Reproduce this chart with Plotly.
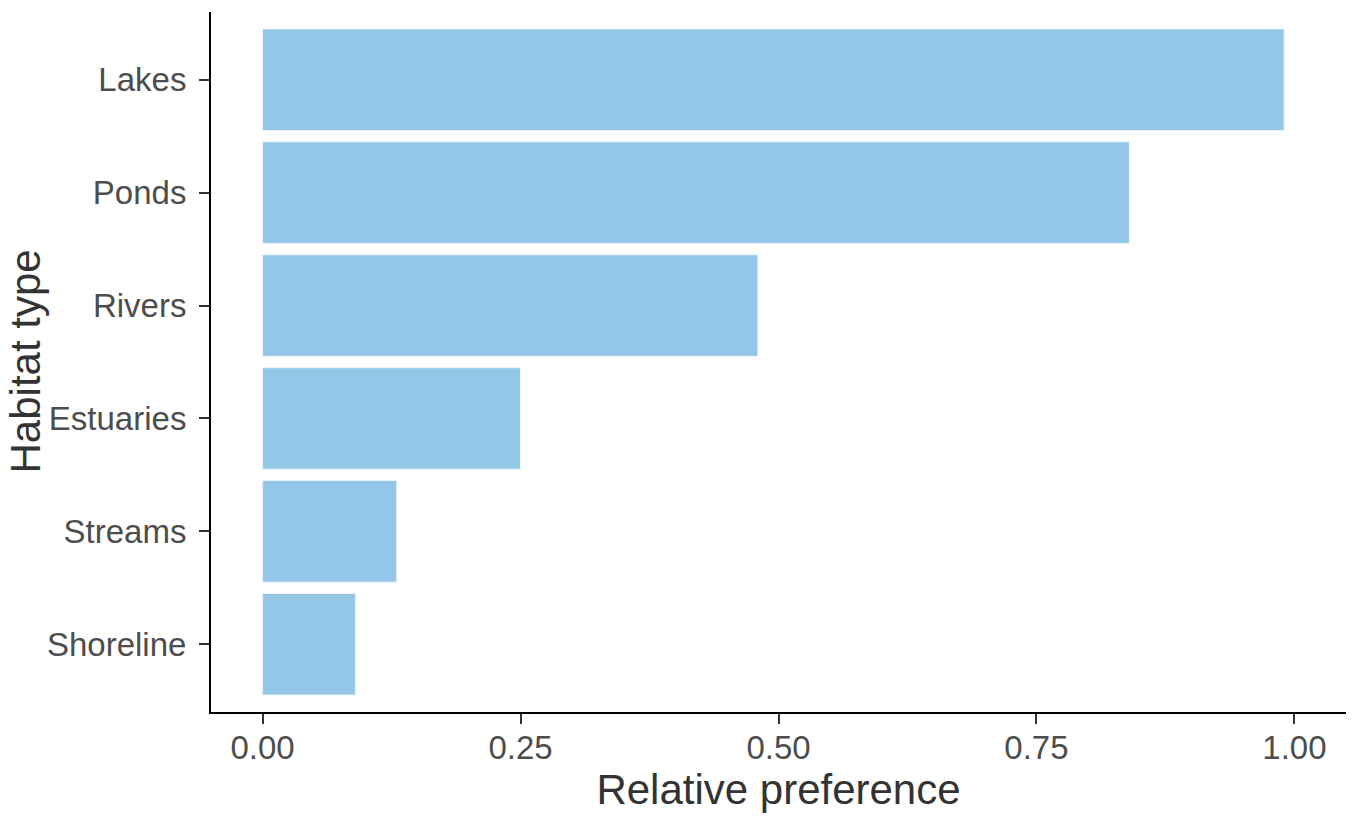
import plotly.graph_objects as go

# habitat preference data
habitats = ["Shoreline", "Streams", "Estuaries", "Rivers", "Ponds", "Lakes"]
preference = [0.09, 0.13, 0.25, 0.48, 0.84, 0.99]

x_ticks = [0, 0.25, 0.5, 0.75, 1.0]
x_tick_labels = ["0.00", "0.25", "0.50", "0.75", "1.00"]

bar_colour = "#93c6e7"

fig = go.Figure()
fig.add_trace(go.Bar(
    x=preference,
    y=habitats,
    orientation="h",
    width=0.9,
    marker=dict(color=bar_colour, line=dict(color="#eaf4fb", width=1)),
    hoverinfo="x+y",
))

# page body has an 8px margin, so the figure is a little smaller than the window
fig.update_layout(
    width=1342,
    height=810,
    margin=dict(l=203, r=4, t=4, b=106),
    plot_bgcolor="white",
    paper_bgcolor="white",
    font=dict(family="Liberation Sans, Arial, sans-serif", color="#333333"),
    showlegend=False,
)

fig.update_xaxes(
    range=[-0.05, 1.05],
    tickvals=x_ticks,
    ticktext=x_tick_labels,
    showgrid=False,
    zeroline=False,
    showline=True,
    linecolor="black",
    linewidth=2,
    ticks="outside",
    ticklen=10,
    tickwidth=2,
    tickcolor="#333333",
    tickfont=dict(size=33, color="#4d4d4d"),
    ticklabelstandoff=-5,
    automargin=False,
    title=dict(text="Relative preference", font=dict(size=42, color="#333333"), standoff=10),
)

fig.update_yaxes(
    categoryorder="array",
    categoryarray=habitats,
    range=[-0.6, 5.6],
    showgrid=False,
    zeroline=False,
    showline=True,
    linecolor="black",
    linewidth=2,
    ticks="outside",
    ticklen=10,
    tickwidth=2,
    tickcolor="#333333",
    tickfont=dict(size=33, color="#4d4d4d"),
    ticklabelstandoff=6,
    automargin=False,
)

# y title as an annotation so it can sit closer to the left edge
fig.add_annotation(
    text="Habitat type",
    textangle=-90,
    xref="paper", yref="paper",
    x=0, y=0.5,
    xanchor="right", yanchor="middle",
    xshift=-161,
    showarrow=False,
    font=dict(size=42, color="#333333"),
)

fig.write_html("out.html")
